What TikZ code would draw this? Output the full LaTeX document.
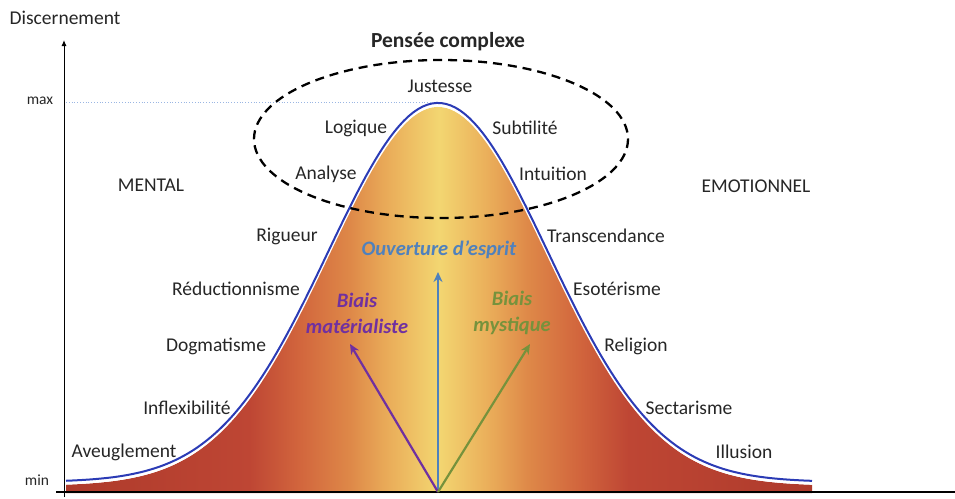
\documentclass[tikz,border=0pt]{standalone}
\usepackage{fontspec}
\setmainfont{Carlito}
\usetikzlibrary{arrows.meta}
\definecolor{txt}{HTML}{262626}
\definecolor{cEdge}{HTML}{AE3A2B}
\definecolor{cRed}{HTML}{BE4634}
\definecolor{cOr1}{HTML}{D2663D}
\definecolor{cOr2}{HTML}{DE8848}
\definecolor{cLo}{HTML}{EAAE5A}
\definecolor{cYel}{HTML}{F3D671}
\definecolor{bluet}{HTML}{4F81BD}
\definecolor{purp}{HTML}{7030A0}
\definecolor{grn}{HTML}{76923C}
\definecolor{curveblue}{HTML}{2B3BB5}
\pgfdeclarehorizontalshading{bell}{100bp}{color(0bp)=(cEdge); color(25bp)=(cEdge); color(37.3bp)=(cRed); color(40.7bp)=(cOr1); color(44bp)=(cOr2); color(46.7bp)=(cLo); color(50bp)=(cYel); color(53.3bp)=(cLo); color(56bp)=(cOr2); color(59.3bp)=(cOr1); color(62.7bp)=(cRed); color(75bp)=(cEdge); color(100bp)=(cEdge)}
\tikzset{
  declare function={g(\x)=379*exp(-((\x-438)/110)^2/2);},
  lbl/.style={font=\fontsize{19.5}{22}\selectfont, text=txt, inner sep=0pt},
  small/.style={font=\fontsize{15.5}{17}\selectfont, text=txt, inner sep=0pt},
  biais/.style={font=\fontsize{20.5}{26}\selectfont\bfseries\itshape, inner sep=0pt, align=center},
  vec/.style={line width=2.2pt, -{Stealth[length=10pt,width=9pt]}},
}
\begin{document}
\begin{tikzpicture}[x=1pt,y=-1pt]
\useasboundingbox (0,0) rectangle (955,498);
% fill
\shade[shading=bell] (66,493) -- plot[domain=66:812,samples=160] (\x,{486-g(\x)}) -- (812,493) -- cycle;
\draw[white,line width=2.5pt] plot[domain=66:812,samples=160] (\x,{484.5-g(\x)});
\draw[curveblue,line width=2pt] plot[domain=66:812,samples=160] (\x,{482-g(\x)});
% axes
\coordinate (o) at (64,497);
\coordinate (top) at (64,40);
\coordinate (hx0) at (56,492);
\coordinate (hx1) at (955,492);
\draw[line width=1pt,-{Latex[length=6pt,width=5pt]}] (o) -- (top);
\draw[line width=1.4pt] (hx0) -- (hx1);
\coordinate (mx) at (66,102);
\coordinate (pk) at (432,102);
\draw[cyan!50!blue!40, dotted, line width=0.8pt] (mx) -- (pk);
% ellipse
\draw[dash pattern=on 9pt off 6pt, line width=2.3pt] (441,139) ellipse [x radius=187, y radius=79];
% vectors
\coordinate (base) at (438,492);
\coordinate (up) at (438,272);
\coordinate (lft) at (350,344);
\coordinate (rgt) at (530,344);
\draw[vec, bluet] (base) -- (up);
\draw[vec, purp] (base) -- (lft);
\draw[vec, grn] (base) -- (rgt);
% labels
\node[lbl] (disc) at (65,18) {Discernement};
\node[small] (max) at (40,101) {max};
\node[small] (min) at (37,480) {min};
\node[lbl, font=\fontsize{21.5}{24}\selectfont\bfseries] (pc) at (448,42) {Pensée complexe};
\node[lbl] (jus) at (440,86) {Justesse};
\node[lbl] (log) at (356,128) {Logique};
\node[lbl] (sub) at (525,128) {Subtilité};
\node[lbl] (ana) at (326,174) {Analyse};
\node[lbl] (int) at (553,174) {Intuition};
\node[lbl] (men) at (151,185) {MENTAL};
\node[lbl] (emo) at (756,186) {EMOTIONNEL};
\node[lbl] (rig) at (287,236) {Rigueur};
\node[lbl] (tra) at (606,236) {Transcendance};
\node[biais, text=bluet] (ouv) at (439,250) {Ouverture d’esprit};
\node[lbl] (red) at (236,289) {Réductionnisme};
\node[lbl] (eso) at (617,289) {Esotérisme};
\node[biais, text=purp] (bm) at (357,313) {Biais\\matérialiste};
\node[biais, text=grn] (bmy) at (512,313) {Biais\\mystique};
\node[lbl] (dog) at (216,346) {Dogmatisme};
\node[lbl] (rel) at (636,346) {Religion};
\node[lbl] (inf) at (187,408) {Inflexibilité};
\node[lbl] (sec) at (689,408) {Sectarisme};
\node[lbl] (ave) at (124,452) {Aveuglement};
\node[lbl] (ill) at (744,452) {Illusion};
\end{tikzpicture}
\end{document}
